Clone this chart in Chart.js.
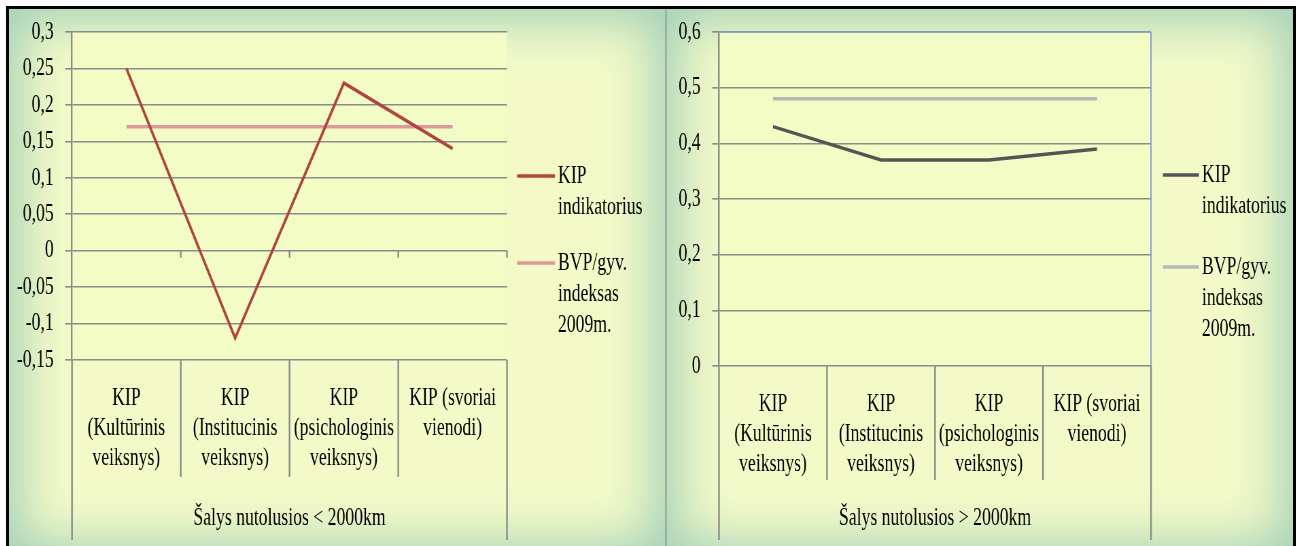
<!DOCTYPE html>
<html>
<head>
<meta charset="utf-8">
<script src="https://cdn.jsdelivr.net/npm/chart.js@4/dist/chart.umd.min.js"></script>
<style>
html,body{margin:0;padding:0;background:#fff;width:1298px;height:546px;overflow:hidden;}
#frame{position:absolute;left:6px;top:6px;width:1284px;height:560px;border:3px solid #000;}
.panel{position:absolute;top:9px;height:545px;background:#f3fac8;box-shadow:inset 0 0 50px 12px #a3d0b8;}
#p1{left:9px;width:656px;}
#p2{left:667px;width:626px;}
#sep{position:absolute;left:665px;top:9px;width:2px;height:545px;background:#9fb0a4;}
canvas{position:absolute;top:9px;transform-origin:0 0;}
</style>
</head>
<body>
<div id="frame"></div>
<div class="panel" id="p1"></div>
<div class="panel" id="p2"></div>
<div id="sep"></div>
<canvas id="c1"></canvas>
<canvas id="c2"></canvas>
<script>
// ---- data ----
const categories = [
  ["KIP", "(Kultūrinis", "veiksnys)"],
  ["KIP", "(Institucinis", "veiksnys)"],
  ["KIP", "(psichologinis", "veiksnys)"],
  ["KIP (svoriai", "vienodi)"]
];
const seriesNames = [["KIP", "indikatorius"], ["BVP/gyv.", "indeksas", "2009m."]];
const leftKip = [0.25, -0.12, 0.23, 0.14];
const leftBvp = [0.17, 0.17, 0.17, 0.17];
const rightKip = [0.43, 0.37, 0.37, 0.39];
const rightBvp = [0.48, 0.48, 0.48, 0.48];
const leftTicks = [-0.15, 0.3, 0.05];   // min, max, step
const rightTicks = [0, 0.6, 0.1];
const leftTitle = "Šalys nutolusios < 2000km";
const rightTitle = "Šalys nutolusios > 2000km";

// ---- styling ----
const S = 0.68;               // horizontal text condensing
const FONT = "'Liberation Serif', 'Times New Roman', serif";
const TXT = '#000000';
const GRID = '#8a8a8a';
const H = 537;

const decor = {
  id: 'decor',
  beforeDraw(chart, args, o) {
    const a = chart.chartArea, ctx = chart.ctx;
    ctx.save();
    ctx.fillStyle = '#f4fcc5';
    ctx.fillRect(a.left, a.top, a.right - a.left, a.bottom - a.top);
    ctx.restore();
  },
  afterDraw(chart, args, o) {
    const a = chart.chartArea, ctx = chart.ctx;
    const xs = chart.scales.x, ys = chart.scales.y;
    const n = chart.data.labels.length;
    ctx.save();
    ctx.strokeStyle = GRID;
    ctx.lineWidth = 2.4;
    for (let i = 0; i <= n; i++) {
      const x = i === 0 ? a.left : i === n ? a.right :
        (xs.getPixelForValue(i - 1) + xs.getPixelForValue(i)) / 2;
      const y2 = (i === 0 || i === n) ? o.outerEnd : o.sepEnd;
      ctx.beginPath(); ctx.moveTo(x, a.bottom); ctx.lineTo(x, y2); ctx.stroke();
      if (o.zeroTicks && i > 0) {
        const y0 = ys.getPixelForValue(0);
        ctx.beginPath(); ctx.moveTo(x, y0); ctx.lineTo(x, y0 + 7); ctx.stroke();
      }
    }
    if (o.blueBorder) {
      ctx.strokeStyle = '#7f9fd4';
      ctx.lineWidth = 1.5;
      ctx.beginPath(); ctx.moveTo(a.left, a.top); ctx.lineTo(a.right, a.top); ctx.stroke();
      ctx.lineWidth = 2;
      ctx.beginPath(); ctx.moveTo(a.right, a.top); ctx.lineTo(a.right, a.bottom); ctx.stroke();
    }
    // legend
    const L = o.legend;
    chart.data.datasets.forEach((ds, i) => {
      const y = L.ys[i];
      ctx.strokeStyle = ds.borderColor;
      ctx.lineWidth = 3.5;
      ctx.beginPath(); ctx.moveTo(L.x1, y); ctx.lineTo(L.x2, y); ctx.stroke();
      ctx.fillStyle = TXT;
      ctx.font = '26px ' + FONT;
      ctx.textBaseline = 'middle';
      ctx.textAlign = 'left';
      seriesNames[i].forEach((t, j) => ctx.fillText(t, L.tx, y + j * L.lh));
    });
    ctx.restore();
  }
};

function makeChart(id, screenLeft, screenWidth, cfg) {
  const W = Math.round(screenWidth / S);
  const sx = screenWidth / W;
  const X = v => (v - screenLeft) / sx;
  const cv = document.getElementById(id);
  cv.width = W; cv.height = H;
  cv.style.left = screenLeft + 'px';
  cv.style.width = W + 'px'; cv.style.height = H + 'px';
  cv.style.transform = 'scaleX(' + sx + ')';
  const plotLeft = X(cfg.plotL), plotRight = X(cfg.plotR);
  const plotTop = cfg.plotT - 9, plotBottom = cfg.plotB - 9;
  const fmt = v => String(Math.round(v * 100) / 100).replace('.', ',');
  return new Chart(cv, {
    type: 'line',
    data: {
      labels: categories,
      datasets: [
        { label: seriesNames[0].join(' '), data: cfg.kip, borderColor: cfg.c1, borderWidth: 3.5, pointRadius: 0, tension: 0, fill: false },
        { label: seriesNames[1].join(' '), data: cfg.bvp, borderColor: cfg.c2, borderWidth: 3.5, pointRadius: 0, tension: 0, fill: false }
      ]
    },
    options: {
      responsive: false, animation: false, devicePixelRatio: 1,
      layout: { padding: { left: 0, top: plotTop, right: W - plotRight, bottom: 0 } },
      plugins: {
        legend: { display: false }, tooltip: { enabled: false },
        decor: {
          sepEnd: cfg.sepEnd - 9, outerEnd: 540 - 9, zeroTicks: cfg.zeroTicks, blueBorder: cfg.blueBorder,
          legend: { x1: X(cfg.lx1), x2: X(cfg.lx2), tx: X(cfg.lx2 + 3), ys: cfg.lys.map(v => v - 9), lh: 31 }
        }
      },
      scales: {
        x: {
          type: 'category', offset: true,
          grid: { display: false, drawTicks: false }, border: { display: false },
          ticks: { autoSkip: false, maxRotation: 0, minRotation: 0, padding: 23, color: TXT,
                   font: { family: FONT, size: 26, lineHeight: 1.15 } },
          title: { display: true, text: cfg.title, color: TXT, font: { family: FONT, size: 26, lineHeight: 1.15 },
                   padding: { top: 0, bottom: 13 } },
          afterFit: s => { s.height = H - plotBottom; s.paddingLeft = 0; s.paddingRight = 0; }
        },
        y: {
          min: cfg.ticks[0], max: cfg.ticks[1],
          ticks: { stepSize: cfg.ticks[2], callback: fmt, color: TXT, padding: 17,
                   font: { family: FONT, size: 26 } },
          grid: { color: GRID, lineWidth: 1.6, drawTicks: true, tickLength: 10 },
          border: { display: true, color: GRID, width: 2.4 },
          afterFit: s => { s.width = plotLeft; s.paddingTop = 0; s.paddingBottom = 0; }
        }
      }
    },
    plugins: [decor]
  });
}

function build() {
  makeChart('c1', 9, 656, {
    plotL: 72, plotR: 507, plotT: 32, plotB: 360, sepEnd: 477,
    kip: leftKip, bvp: leftBvp, c1: '#ad4641', c2: '#db999c', ticks: leftTicks, title: leftTitle,
    zeroTicks: true, blueBorder: false, lx1: 517, lx2: 555, lys: [176, 263]
  });
  makeChart('c2', 667, 626, {
    plotL: 719, plotR: 1151, plotT: 32, plotB: 366, sepEnd: 480,
    kip: rightKip, bvp: rightBvp, c1: '#555555', c2: '#b8b8b8', ticks: rightTicks, title: rightTitle,
    zeroTicks: false, blueBorder: true, lx1: 1163, lx2: 1199, lys: [175, 267]
  });
}
if (document.fonts && document.fonts.load) {
  document.fonts.load('26px "Liberation Serif"').then(build, build);
} else { build(); }
</script>
</body>
</html>
